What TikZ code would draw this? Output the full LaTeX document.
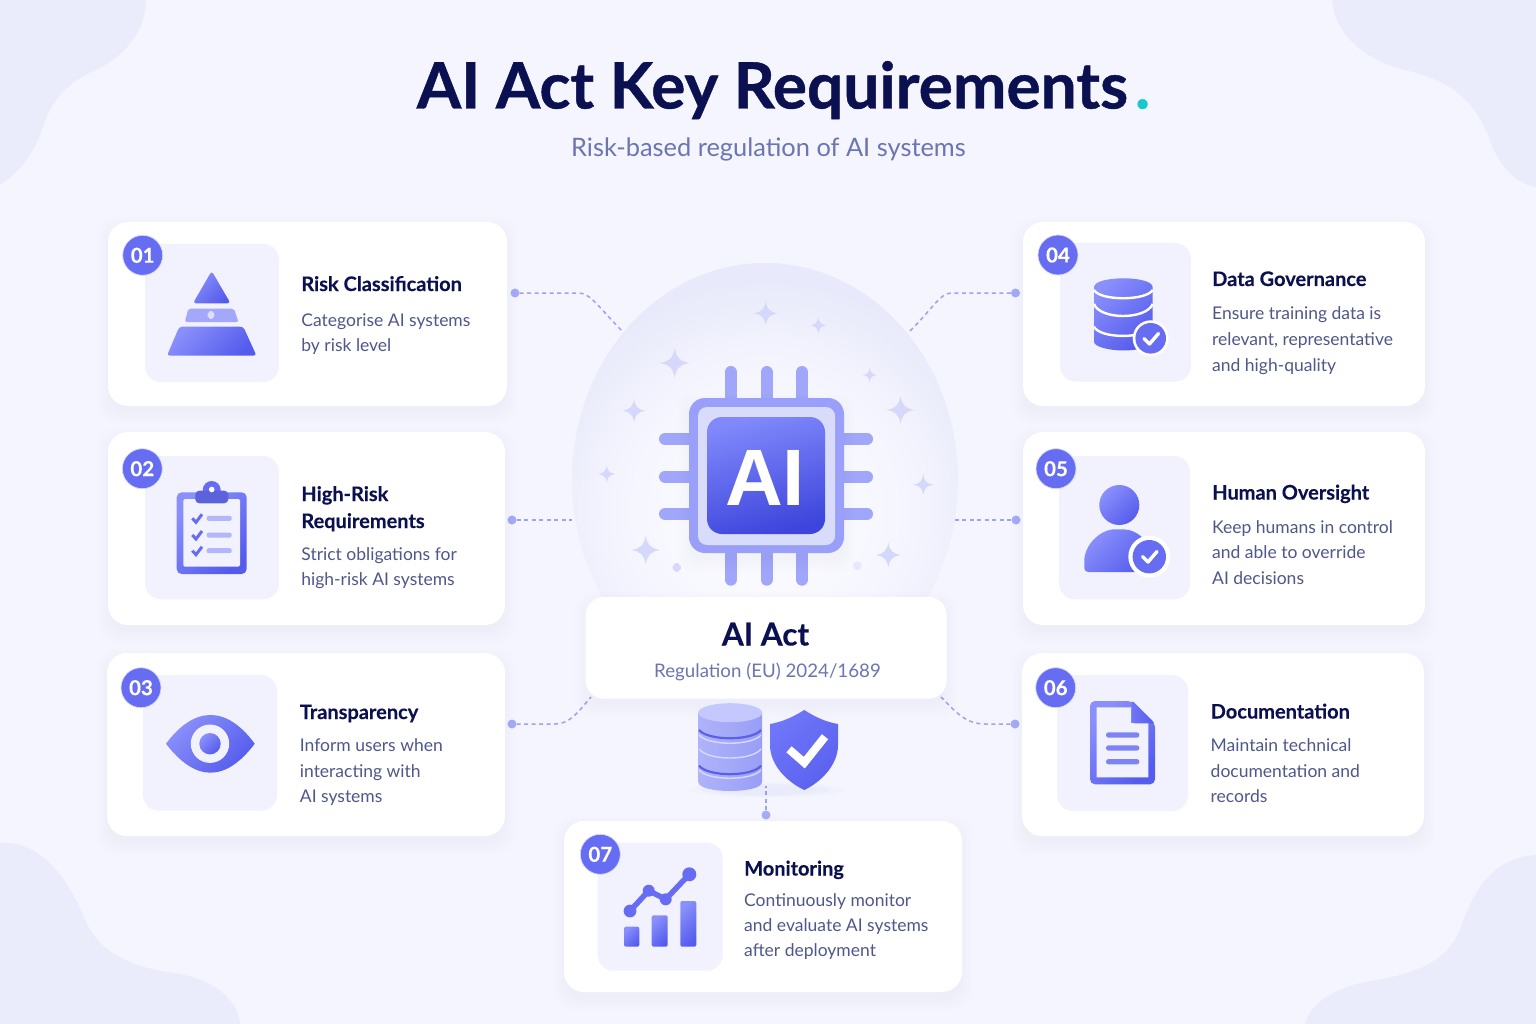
\documentclass[tikz,border=0pt]{standalone}
\usepackage{fontspec}
\setmainfont{Lato}[BoldFeatures={FakeBold=0.25}]
\newfontfamily\titlefont{Lato}[BoldFeatures={FakeBold=0.7}]
\newfontfamily\chipfont{Liberation Sans}
\usetikzlibrary{calc}
\definecolor{bgc}{HTML}{F4F5FE}
\definecolor{blobc}{HTML}{EAEBFB}
\definecolor{navy}{HTML}{0B1050}
\definecolor{bodyc}{HTML}{50578A}
\definecolor{subc}{HTML}{6D74B2}
\definecolor{iconbg}{HTML}{F1F2FE}
\definecolor{accent}{HTML}{666DF2}
\definecolor{gradA}{HTML}{8A90FB}
\definecolor{gradB}{HTML}{555CEC}
\definecolor{pinc}{HTML}{A0A6F9}
\definecolor{framec}{HTML}{9AA0F9}
\definecolor{innerc}{HTML}{D9DBFB}
\definecolor{connc}{HTML}{9CA2F4}
\definecolor{dotc}{HTML}{A6ABF8}
\definecolor{starc}{HTML}{D5D8FB}
\definecolor{tealc}{HTML}{18C8D0}
\definecolor{domeA}{HTML}{FBFBFF}
\definecolor{domeB}{HTML}{F8F9FF}
\definecolor{domeC}{HTML}{F1F2FD}
\definecolor{domeD}{HTML}{E8E9FA}
\definecolor{shadowc}{HTML}{7277DC}
\definecolor{coreA}{HTML}{8088FB}
\definecolor{coreB}{HTML}{3D45DC}
\definecolor{dbL}{HTML}{AFB3FB}
\definecolor{dbR}{HTML}{989EF6}
\definecolor{dbDark}{HTML}{5A60E8}
\definecolor{dbLight}{HTML}{D8DAFD}
\definecolor{dbTop}{HTML}{C5C8FC}
\definecolor{shieldA}{HTML}{7076F8}
\definecolor{shieldB}{HTML}{5A61EE}
\definecolor{pyrMid}{HTML}{A3A8FB}
\definecolor{pyrGem}{HTML}{DDDFFC}
\definecolor{clipLine}{HTML}{B3B6F8}
\definecolor{foldA}{HTML}{6F76F6}
\definecolor{docLine}{HTML}{7D83F3}
\pgfdeclareradialshading{domeshade}{\pgfpointorigin}{color(0bp)=(domeA); color(10bp)=(domeB); color(17bp)=(domeC); color(23bp)=(domeD); color(50bp)=(domeD)}
\tikzset{
  x=1pt,y=-1pt,
  cardbox/.style={fill=white,rounded corners=20pt,inner sep=0pt,outer sep=0pt},
  iconbox/.style={fill=iconbg,rounded corners=16pt,inner sep=0pt,outer sep=0pt},
  badge/.style={circle,fill=accent,draw=white!75!accent,line width=.7pt,inner sep=0pt,minimum size=40pt,text=white,font=\fontsize{20.5}{24}\selectfont\bfseries},
  ttl/.style={anchor=base west,inner sep=0pt,text=navy,font=\fontsize{20}{24}\selectfont\bfseries},
  bdy/.style={anchor=base west,inner sep=0pt,text=bodyc,font=\fontsize{17.5}{22}\selectfont},
  grad/.style={left color=gradA,right color=gradB,shading angle=45},
  conn/.style={draw=connc,line width=1.5pt,dash pattern=on 4pt off 3.5pt},
  conndot/.style={circle,fill=dotc,inner sep=0pt,minimum size=9pt},
  pin/.style={draw=pinc,line width=12pt,line cap=round},
  star/.style={fill=starc},
  wline/.style={draw=white,line width=2.4pt},
}
\newcommand\softshadow[5]{%
  \foreach \d in {1,3,5,7,9,11,13}{%
    \fill[shadowc,opacity=.005,rounded corners=#5pt] (#1-\d+2,#2-\d+8) rectangle (#3+\d-2,#4+\d+6);}}
\newcommand\boxnode[6]{% style,name,x1,y1,x2,y2
  \pgfmathsetmacro\bw{#5-#3}\pgfmathsetmacro\bh{#6-#4}%
  \pgfmathsetmacro\bx{(#3+#5)/2}\pgfmathsetmacro\by{(#4+#6)/2}%
  \node[#1,minimum width=\bw pt,minimum height=\bh pt] (#2) at (\bx,\by) {};}
\newcommand\card[5]{% name x1 y1 x2 y2
  \softshadow{#2}{#3}{#4}{#5}{20}%
  \boxnode{cardbox}{#1}{#2}{#3}{#4}{#5}}
\newcommand\sparkle[3]{%
  \begin{scope}[shift={(#1,#2)},scale=#3]
   \fill[star] (0,-1) .. controls (.1,-.35) and (.35,-.1) .. (1,0) .. controls (.35,.1) and (.1,.35) .. (0,1) .. controls (-.1,.35) and (-.35,.1) .. (-1,0) .. controls (-.35,-.1) and (-.1,-.35) .. cycle;
  \end{scope}}
\newcommand\chk[4]{% three points + width
  \draw[white,line width=#4pt,line cap=round,line join=round] #1 -- #2 -- #3;}
\begin{document}
\begin{tikzpicture}
\useasboundingbox (0,0) rectangle (1536,1024);
\fill[bgc] (0,0) rectangle (1536,1024);
% corner blobs
\fill[blobc] (0,0) -- (146,0) .. controls (146,30) and (125,55) .. (100,68) .. controls (60,85) and (50,105) .. (40,135) .. controls (30,160) and (15,175) .. (0,185) -- cycle;
\fill[blobc] (1536,0) -- (1332,0) .. controls (1335,35) and (1365,60) .. (1405,70) .. controls (1450,80) and (1475,100) .. (1490,140) .. controls (1500,170) and (1520,185) .. (1536,187) -- cycle;
\fill[blobc] (0,1024) -- (0,843) .. controls (35,840) and (65,870) .. (85,920) .. controls (100,955) and (135,968) .. (175,973) .. controls (215,980) and (238,1000) .. (240,1024) -- cycle;
\fill[blobc] (1536,1024) -- (1536,855) .. controls (1495,858) and (1475,885) .. (1460,930) .. controls (1445,965) and (1410,975) .. (1365,982) .. controls (1330,990) and (1310,1005) .. (1305,1024) -- cycle;
% title
\node[inner sep=0pt,anchor=base,text=navy,font=\fontsize{64}{70}\selectfont\titlefont\bfseries] (title) at (783.5,108.5) {AI Act Key Requirements{\kern7pt\color{tealc}.}};
\node[inner sep=0pt,anchor=base,text=subc,font=\fontsize{25.4}{30}\selectfont] (subtitle) at (768.5,157) {Risk-based regulation of AI systems};
% dome
\begin{scope}
 \clip (765,480) ellipse [x radius=193,y radius=217];
 \shade[shading=domeshade] (765,510) circle [radius=250];
\end{scope}
% connectors
\node[conndot] (d1) at (515,293) {};
\node[conndot] (d2) at (512,520) {};
\node[conndot] (d3) at (512,724) {};
\node[conndot] (d4) at (1015.5,293) {};
\node[conndot] (d5) at (1016,520) {};
\node[conndot] (d6) at (1015,724) {};
\node[conndot] (d7) at (766,815) {};
\coordinate (e1) at (622,331);
\coordinate (e2) at (572,520);
\coordinate (e3) at (591,697);
\coordinate (e4) at (910,331);
\coordinate (e5) at (955,520);
\coordinate (e6) at (941,697);
\coordinate (e7) at (766,786);
\draw[conn] (d1) -- (578,293) .. controls (590,293) and (595,303) .. (e1);
\draw[conn] (d2) -- (e2);
\draw[conn] (d3) -- (555,724) .. controls (570,724) and (578,712) .. (e3);
\draw[conn] (d4) -- (952,293) .. controls (940,293) and (935,306) .. (e4);
\draw[conn] (d5) -- (e5);
\draw[conn] (d6) -- (985,724) .. controls (965,724) and (955,711) .. (e6);
\draw[conn] (d7) -- (e7);
% sparkles
\sparkle{765.7}{313.3}{12}
\sparkle{818.3}{325.3}{8}
\sparkle{674.7}{363}{15}
\sparkle{634}{410.7}{11.5}
\sparkle{869.7}{375}{7}
\sparkle{900.5}{410}{14}
\sparkle{606.7}{474}{8.5}
\sparkle{923.3}{484.7}{10}
\sparkle{645.7}{550}{14.5}
\sparkle{888.3}{555}{12.5}
\fill[starc,rounded corners=1.5pt] (676.7,562) -- (682,567.7) -- (676.7,573) -- (671.5,567.7) -- cycle;
\fill[starc!60!white] (857.3,565.7) circle [radius=4.5];
% chip pins
\foreach \xx in {730.7,766.5,802}{
  \draw[pin] (\xx,372) -- (\xx,400);
  \draw[pin] (\xx,550) -- (\xx,579.7);}
\foreach \yy in {439,476.7,514}{
  \draw[pin] (665,\yy) -- (691,\yy);
  \draw[pin] (841,\yy) -- (867,\yy);}
\softshadow{689}{398}{844}{553}{16}
\boxnode{fill=framec,rounded corners=16pt,inner sep=0pt,outer sep=0pt}{chipframe}{689}{398}{844}{553}
\boxnode{fill=innerc,rounded corners=9pt,inner sep=0pt,outer sep=0pt}{chipinner}{698}{407}{835}{545}
\shade[left color=coreA,right color=coreB,shading angle=15,rounded corners=15pt] (707,417) rectangle (825,534);
\node[inner sep=0pt,anchor=base,text=white,font=\fontsize{80}{80}\selectfont\chipfont\bfseries] (chipai) at (765,505.5) {AI};
% AI Act card
\softshadow{585.7}{597}{946.5}{698.7}{18}
\boxnode{fill=white!98!bgc,rounded corners=18pt,inner sep=0pt,outer sep=0pt}{actcard}{585.7}{597}{946.5}{698.7}
\node[inner sep=0pt,anchor=base,text=navy,font=\fontsize{31.5}{34}\selectfont\bfseries] (acttitle) at (765.5,645.5) {AI Act};
\node[inner sep=0pt,anchor=base,text=subc,font=\fontsize{18.7}{24}\selectfont] (actsub) at (767.5,677) {Regulation (EU) 2024/1689};
% database and shield
\foreach \r/\o in {46/.02,38/.03,30/.03}{\fill[shadowc,opacity=\o] (766,790) ellipse [x radius=\r*1.7,y radius=\r*.16];}
\shade[left color=dbL,right color=dbR] (698.3,712.7) -- (698.3,782) .. controls (698.3,794) and (762,794) .. (762,782) -- (762,712.7) -- cycle;
\draw[draw=dbDark,line width=2.2pt] (699,730) .. controls (708,741) and (752,741) .. (761,730);
\draw[draw=dbLight,line width=1.4pt] (699,735) .. controls (708,746) and (752,746) .. (761,735);
\draw[draw=dbLight,line width=1.4pt] (699,749) .. controls (708,761) and (752,761) .. (761,749);
\draw[draw=dbDark,line width=2.2pt] (699,765.7) .. controls (708,777) and (752,777) .. (761,765.7);
\draw[draw=dbLight,line width=1.4pt] (699,770) .. controls (708,781) and (752,781) .. (761,770);
\fill[dbTop] (730.2,712.7) ellipse [x radius=32,y radius=9.5];
\shade[left color=shieldA,right color=shieldB,shading angle=45] (804.3,710) .. controls (793,717) and (782,722) .. (770,724) -- (770,745) .. controls (770,765) and (787,782) .. (804.3,790) .. controls (821,782) and (838,765) .. (838,745) -- (838,724) .. controls (826,722) and (815,717) .. cycle;
\draw[white,line width=8pt,line join=miter] (789,749.3) -- (804.3,762.7) -- (825,736.7);
% cards
\card{c1}{108}{222}{507}{406}
\card{c2}{108}{432}{505}{625}
\card{c3}{107}{653}{505}{836}
\card{c4}{1023}{222}{1425}{406}
\card{c5}{1023}{432}{1425}{625}
\card{c6}{1022}{653}{1424}{836}
\card{c7}{564}{821}{962}{992}
% icon squares
\boxnode{iconbox}{i1}{145}{244}{279}{382}
\boxnode{iconbox}{i2}{145}{456}{279}{599.3}
\boxnode{iconbox}{i3}{143}{675}{277}{810.7}
\boxnode{iconbox}{i4}{1060}{243}{1191}{381.7}
\boxnode{iconbox}{i5}{1059}{456}{1190}{599.3}
\boxnode{iconbox}{i6}{1057}{675}{1188}{811}
\boxnode{iconbox}{i7}{597.7}{842.7}{722.7}{970.7}
% badges
\node[badge] (b1) at (142.7,255.3) {01};
\node[badge] (b2) at (142.3,468.7) {02};
\node[badge] (b3) at (141,687.7) {03};
\node[badge] (b4) at (1058,255) {04};
\node[badge] (b5) at (1056,468.7) {05};
\node[badge] (b6) at (1055.7,687.7) {06};
\node[badge] (b7) at (600.3,854.3) {07};
% pyramid
\shade[grad,rounded corners=3pt] (211.7,271) -- (230.5,303.3) -- (193,303.3) -- cycle;
\fill[pyrMid,rounded corners=2pt] (188.3,308.7) -- (234,308.7) -- (238.5,322) -- (184.8,322) -- cycle;
\fill[pyrGem,rounded corners=1.5pt] (211,310) -- (215.5,315) -- (211,320) -- (206.5,315) -- cycle;
\shade[grad,rounded corners=3pt] (179.3,326.7) -- (243.3,326.7) -- (256.5,355.7) -- (167,355.7) -- cycle;
% clipboard
\shade[grad,rounded corners=5pt] (176.7,492.3) rectangle (246.7,574);
\fill[iconbg,rounded corners=1.5pt] (183.3,499) rectangle (240,566.7);
\fill[accent] (211.7,490) circle [radius=9];
\fill[accent!90!black,rounded corners=4pt] (195.3,490.7) rectangle (228.3,503.3);
\fill[white] (211.7,489.5) circle [radius=2.8];
\foreach \yy in {518.3,535,550.7}{
  \draw[accent,line width=3pt,line join=miter] (192.3,\yy) -- (196,\yy+4) -- (202,\yy-4);
  \fill[clipLine,rounded corners=2pt] (206.7,\yy-2.5) rectangle (231.7,\yy+2.5);}
% eye
\shade[grad] (166,743.7) .. controls (180,725) and (195,715) .. (210.5,715) .. controls (226,715) and (241,725) .. (254.7,743.7) .. controls (241,762) and (226,772.7) .. (210.5,772.7) .. controls (195,772.7) and (180,762) .. cycle;
\fill[iconbg] (210,743.7) circle [radius=19.2];
\shade[grad] (210,743.7) circle [radius=10.7];
% database icon
\shade[grad] (1094,287.3) -- (1094,341.7) .. controls (1094,347) and (1110,350.5) .. (1123.3,350.5) .. controls (1137,350.5) and (1152.7,347) .. (1152.7,341.7) -- (1152.7,287.3) .. controls (1152.7,275.3) and (1094,275.3) .. cycle;
\draw[wline] (1094,290) .. controls (1100,301) and (1146,301) .. (1152.7,290);
\draw[wline] (1094,304) .. controls (1100,320) and (1146,320) .. (1152.7,304);
\draw[wline] (1094,326.7) .. controls (1100,339) and (1146,339) .. (1152.7,326.7);
\fill[white] (1150.7,338.3) circle [radius=18];
\fill[accent] (1150.7,338.3) circle [radius=15.3];
\chk{(1144,338.5)}{(1149.5,344)}{(1158.5,333.5)}{3.4}
% person
\shade[grad] (1119.3,505) circle [radius=20];
\shade[grad,rounded corners=4pt] (1084.3,572) -- (1084.3,565) .. controls (1084.3,545) and (1100,529.3) .. (1119.3,529.3) .. controls (1138,529.3) and (1154,545) .. (1154,565) -- (1154,572) -- cycle;
\fill[white] (1149.3,556.7) circle [radius=21];
\fill[accent] (1149.3,556.7) circle [radius=16.7];
\chk{(1142.5,556.5)}{(1148,562)}{(1157,551.5)}{3.4}
% document
\shade[grad,rounded corners=5pt] (1090,701) -- (1131.7,701) -- (1155,723.3) -- (1155,784.3) -- (1090,784.3) -- cycle;
\fill[iconbg] (1096.7,707.3) -- (1131,707.3) -- (1131,723) -- (1148.3,723) -- (1148.3,777.3) -- (1096.7,777.3) -- cycle;
\shade[left color=foldA,right color=gradB,rounded corners=3pt] (1131.7,700) -- (1155,723.3) -- (1132,723.3) -- cycle;
\foreach \yy in {735,748,761.7}{\fill[docLine,rounded corners=2.4pt] (1106,\yy-2.6) rectangle (1139.3,\yy+2.6);}
% chart
\shade[grad,rounded corners=2pt] (624,926.7) rectangle (639.3,946.7);
\shade[grad,rounded corners=2pt] (651.7,915.3) rectangle (667.7,946.7);
\shade[grad,rounded corners=2pt] (680.3,901) rectangle (696.3,946.7);
\draw[accent,line width=5.5pt] (630,911) -- (648.7,890.7) -- (665.7,899.3) -- (689.3,874.3);
\fill[accent] (630,911) circle [radius=6.4];
\fill[accent] (648.7,890.7) circle [radius=6];
\fill[accent] (665.7,899.3) circle [radius=6];
\fill[accent] (689.3,874.3) circle [radius=7];
% text
\node[ttl] (t1) at (301.2,291) {Risk Classification};
\node[bdy] (t1a) at (301.2,326) {Categorise AI systems};
\node[bdy] (t1b) at (301.2,351) {by risk level};
\node[ttl] (t2) at (301.2,501) {High-Risk};
\node[ttl] (t2x) at (301.2,528) {Requirements};
\node[bdy] (t2a) at (301.2,560) {Strict obligations for};
\node[bdy] (t2b) at (301.2,585) {high-risk AI systems};
\node[ttl] (t3) at (299.7,719) {Transparency};
\node[bdy] (t3a) at (299.7,751) {Inform users when};
\node[bdy] (t3b) at (299.7,777) {interacting with};
\node[bdy] (t3c) at (299.7,802.5) {AI systems};
\node[ttl] (t4) at (1212,286) {Data Governance};
\node[bdy] (t4a) at (1212,319.5) {Ensure training data is};
\node[bdy] (t4b) at (1212,345) {relevant, representative};
\node[bdy] (t4c) at (1212,371) {and high-quality};
\node[ttl] (t5) at (1212,499.5) {Human Oversight};
\node[bdy] (t5a) at (1212,533) {Keep humans in control};
\node[bdy] (t5b) at (1212,558) {and able to override};
\node[bdy] (t5c) at (1212,584) {AI decisions};
\node[ttl] (t6) at (1210.5,718.5) {Documentation};
\node[bdy] (t6a) at (1210.5,751) {Maintain technical};
\node[bdy] (t6b) at (1210.5,777) {documentation and};
\node[bdy] (t6c) at (1210.5,802.5) {records};
\node[ttl] (t7) at (744,875.5) {Monitoring};
\node[bdy] (t7a) at (744,906) {Continuously monitor};
\node[bdy] (t7b) at (744,931) {and evaluate AI systems};
\node[bdy] (t7c) at (744,956) {after deployment};
\end{tikzpicture}
\end{document}
